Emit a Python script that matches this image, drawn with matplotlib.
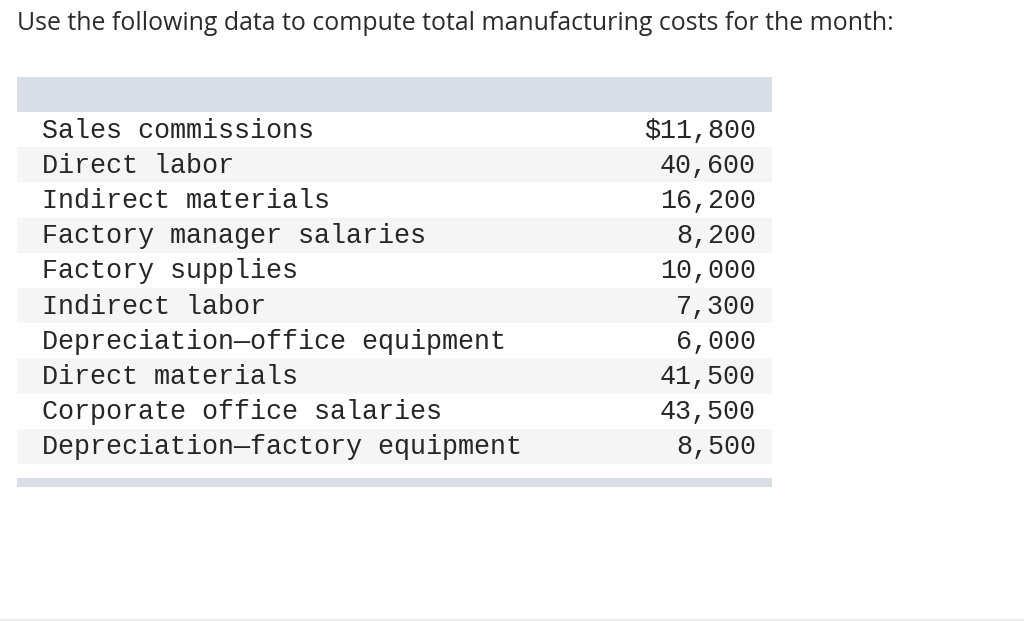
import matplotlib.pyplot as plt
from matplotlib.patches import Rectangle

title = "Use the following data to compute total manufacturing costs for the month:"

items = [
    "Sales commissions",
    "Direct labor",
    "Indirect materials",
    "Factory manager salaries",
    "Factory supplies",
    "Indirect labor",
    "Depreciation\u2014office equipment",
    "Direct materials",
    "Corporate office salaries",
    "Depreciation\u2014factory equipment",
]
amounts = [11800, 40600, 16200, 8200, 10000, 7300, 6000, 41500, 43500, 8500]

W, H = 1024, 621
fig = plt.figure(figsize=(W / 100, H / 100), dpi=100)
ax = fig.add_axes([0, 0, 1, 1])
ax.set_xlim(0, W)
ax.set_ylim(H, 0)
ax.axis("off")

# table geometry in pixels
left, right = 17, 772
header_top, header_h = 77, 35
row_h = 35.2
mono = "Liberation Mono"
fs = 19.3

ax.text(17, 23.5, title, fontsize=17.9, family="Open Sans", color="#2b2b2b",
        va="center", ha="left")

ax.add_patch(Rectangle((left, header_top), right - left, header_h, color="#d9dde6", lw=0))

top = header_top + header_h
for i, (name, val) in enumerate(zip(items, amounts)):
    y0 = top + i * row_h
    if i % 2 == 1:
        ax.add_patch(Rectangle((left, y0), right - left, row_h, color="#f5f5f5", lw=0))
    yc = y0 + row_h / 2 + 1
    ax.text(42, yc, name, fontsize=fs, family=mono, color="#262626", va="center", ha="left")
    label = f"{val:,}"
    if i == 0:
        label = "$" + label
    ax.text(756, yc, label, fontsize=fs, family=mono, color="#262626", va="center", ha="right")

bottom = top + len(items) * row_h
ax.add_patch(Rectangle((left, bottom + 14), right - left, 9, color="#d9dde6", lw=0))

ax.plot([0, W], [619.5, 619.5], color="#ececec", lw=1.5)

fig.savefig("out.png", dpi=100, facecolor="white")
